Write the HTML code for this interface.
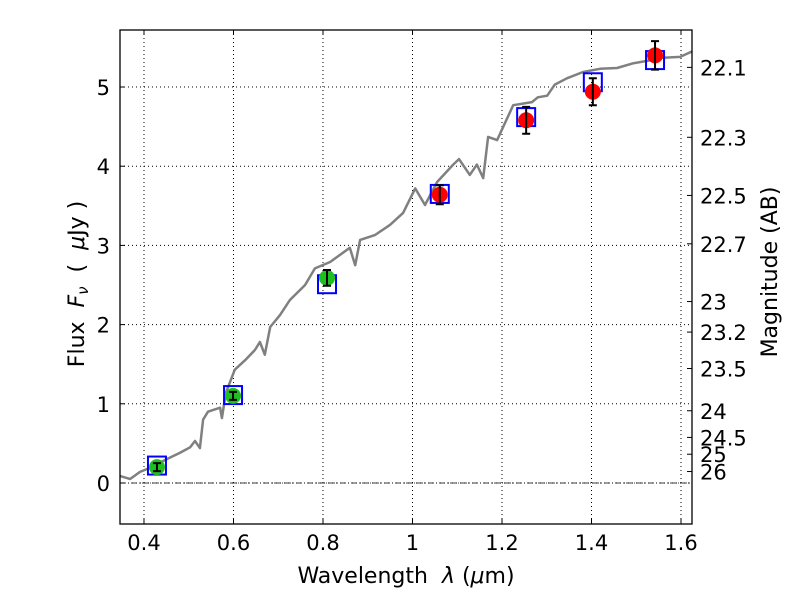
<!DOCTYPE html>
<html><head><meta charset="utf-8"><style>
body{margin:0;background:#fff;}
svg text{font-family:"DejaVu Sans","Liberation Sans",sans-serif;white-space:pre;}
</style></head><body>
<svg id="chart" width="800" height="600" xmlns="http://www.w3.org/2000/svg"></svg>
<script>
const xTicks=[0.4,0.6,0.8,1,1.2,1.4,1.6];
const yTicks=[0,1,2,3,4,5];
const magTicks=[22.1,22.3,22.5,22.7,23,23.2,23.5,24,24.5,25,26];
const specWave=[0.346,0.369,0.391,0.413,0.447,0.480,0.503,0.514,0.525,0.532,0.543,0.570,0.574,0.583,0.603,0.626,0.648,0.659,0.670,0.682,0.704,0.726,0.760,0.782,0.816,0.860,0.872,0.883,0.916,0.950,0.979,1.006,1.028,1.055,1.091,1.104,1.128,1.144,1.158,1.169,1.189,1.225,1.267,1.280,1.301,1.318,1.345,1.381,1.419,1.457,1.493,1.524,1.560,1.598,1.625];
const specFlux=[0.09,0.05,0.14,0.19,0.29,0.38,0.45,0.53,0.44,0.80,0.90,0.95,0.82,1.14,1.43,1.55,1.68,1.78,1.62,1.97,2.12,2.31,2.50,2.71,2.79,2.97,2.75,3.07,3.13,3.26,3.41,3.72,3.51,3.80,4.02,4.09,3.89,4.02,3.85,4.37,4.33,4.77,4.81,4.87,4.89,5.03,5.11,5.19,5.23,5.24,5.30,5.33,5.37,5.38,5.45];
const photWave=[0.429,0.599,0.809,1.061,1.254,1.403,1.542];
const photFlux=[0.20,1.10,2.59,3.64,4.58,4.94,5.40];
const photErr=[0.05,0.05,0.10,0.12,0.17,0.17,0.18];
const photColor=['#1fbf1f','#1fbf1f','#1fbf1f','red','red','red','red'];
const modelFlux=[0.22,1.11,2.51,3.65,4.62,5.06,5.34];

const L=120,R=692,T=30,B=524,xmin=0.3464,xmax=1.6246,ymin=-0.518,ymax=5.72;
const X=v=>L+(v-xmin)/(xmax-xmin)*(R-L);
const Y=v=>B-(v-ymin)/(ymax-ymin)*(B-T);
const svg=document.getElementById('chart');
const NS='http://www.w3.org/2000/svg';
function mk(tag,attrs,parent){const e=document.createElementNS(NS,tag);for(const k in attrs)e.setAttribute(k,attrs[k]);(parent||svg).appendChild(e);return e;}

xTicks.forEach((t,i)=>{
 const g=mk('line',{x1:X(t),x2:X(t),y1:T,y2:B,stroke:'#000','stroke-dasharray':'1,3','stroke-width':1});
 
 
 mk('line',{x1:X(t),x2:X(t),y1:B,y2:B-5,stroke:'#000'});
 mk('line',{x1:X(t),x2:X(t),y1:T,y2:T+5,stroke:'#000'});
 const tx=mk('text',{x:X(t),y:B+26,'text-anchor':'middle','font-size':21});
 tx.textContent=String(t);
 
 
});
yTicks.forEach(t=>{
 const g=mk('line',{x1:L,x2:R,y1:Y(t),y2:Y(t),stroke:'#000','stroke-dasharray':'1,3'});
 
 
 mk('line',{x1:L,x2:L+5,y1:Y(t),y2:Y(t),stroke:'#000'});
 const tx=mk('text',{x:L-10,y:Y(t)+8,'text-anchor':'end','font-size':21});
 tx.textContent=String(t);
 
 
});
const zl=mk('line',{x1:L,x2:R,y1:Y(0),y2:Y(0),stroke:'#000','stroke-dasharray':'6,2,1,2','stroke-width':0.8});


magTicks.forEach(m=>{
 const f=Math.pow(10,(23.9-m)/2.5);const y=Y(f);
 mk('line',{x1:R,x2:R-5,y1:y,y2:y,stroke:'#000'});
 const tx=mk('text',{x:R+8,y:y+8,'font-size':21});
 tx.textContent=String(m);
 
 
});
const pts=specWave.map((w,i)=>X(w).toFixed(1)+','+Y(specFlux[i]).toFixed(1)).join(' ');
const sp=mk('polyline',{points:pts,fill:'none',stroke:'#808080','stroke-width':2.5,'stroke-linejoin':'round'});


photWave.forEach((w,i)=>{
 const cx=X(w);
 const sq=mk('rect',{x:cx-9,y:Y(modelFlux[i])-9,width:18,height:18,fill:'none',stroke:'blue','stroke-width':2});
 
 
 const c=mk('circle',{cx:cx,cy:Y(photFlux[i]),r:8,fill:photColor[i]});
 
 
 const y1=Y(photFlux[i]+photErr[i]),y2=Y(photFlux[i]-photErr[i]);
 const eb=mk('path',{d:`M${cx},${y1}V${y2}M${cx-4},${y1}H${cx+4}M${cx-4},${y2}H${cx+4}`,stroke:'#000','stroke-width':2,fill:'none'});
 
 
});
const fr=mk('rect',{x:L,y:T,width:R-L,height:B-T,fill:'none',stroke:'#000','stroke-width':1.3});


const xl=mk('text',{x:406,y:583,'text-anchor':'middle','font-size':22});
xl.innerHTML='Wavelength  <tspan font-style="italic">λ</tspan> (<tspan font-style="italic">μ</tspan>m)';


const yl=mk('text',{x:0,y:0,'text-anchor':'middle','font-size':22,transform:'translate(84,284) rotate(-90)'});
yl.innerHTML='Flux  <tspan font-style="italic">F<tspan font-size="15" dy="4">ν</tspan></tspan><tspan dy="-4">  (  </tspan><tspan font-style="italic">μ</tspan>Jy )';


const ml=mk('text',{x:0,y:0,'text-anchor':'middle','font-size':22,transform:'translate(777,272) rotate(-90)'});
ml.textContent='Magnitude (AB)';


</script>
</body></html>
